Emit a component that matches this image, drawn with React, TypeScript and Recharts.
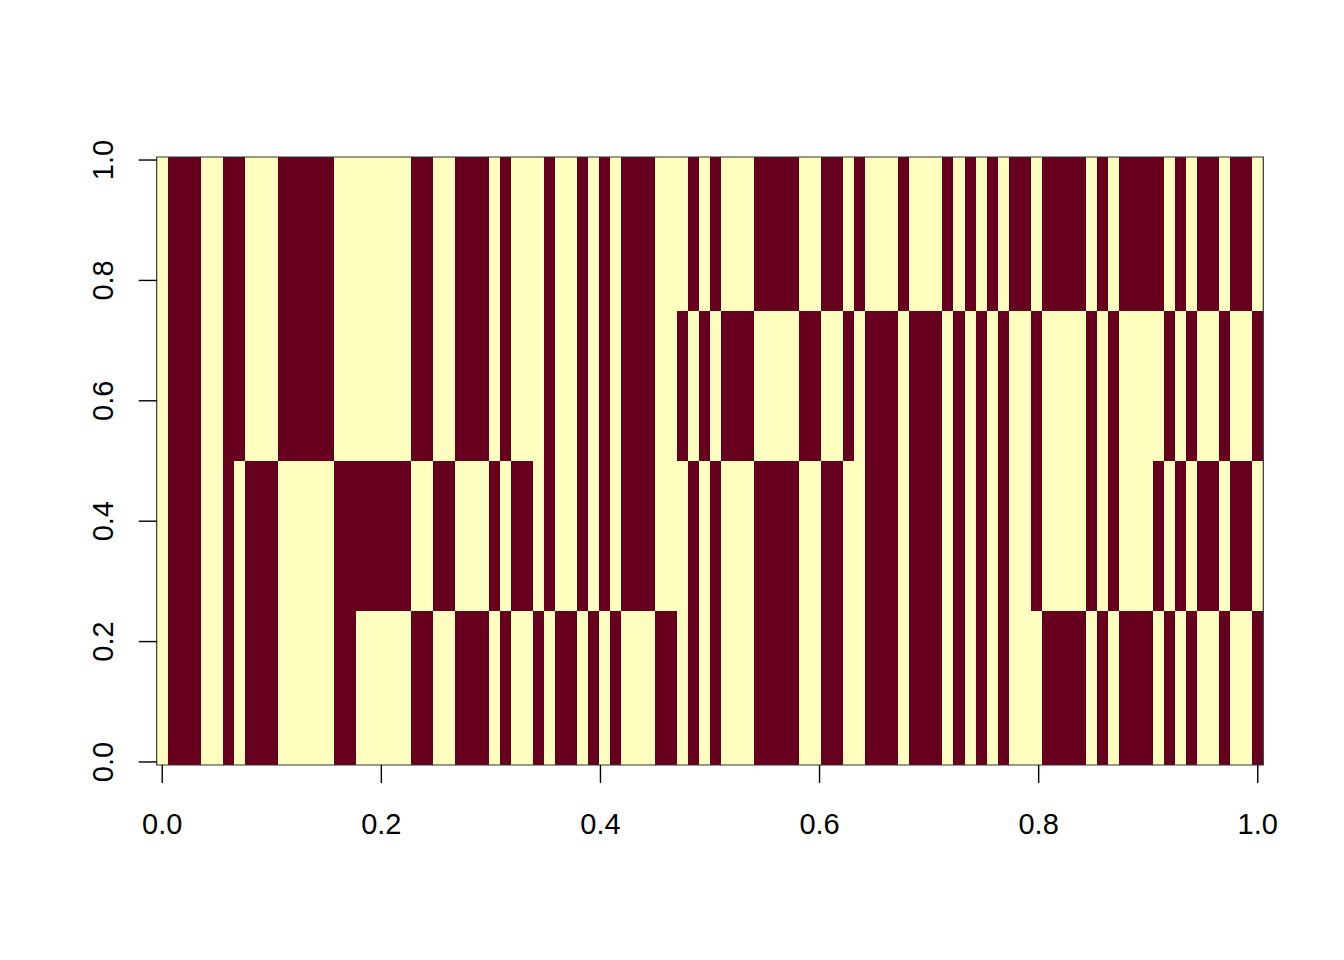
import { ScatterChart, Scatter, XAxis, YAxis, ReferenceArea } from 'recharts'

const DARK = '#67001F'
const LIGHT = '#FFFFBF'

const xTicks = [0, 0.2, 0.4, 0.6, 0.8, 1]
const yTicks = [0, 0.2, 0.4, 0.6, 0.8, 1]
// horizontal band edges, bottom to top
const bandEdges = [0, 0.25, 0.5, 0.75, 1]

// 1 = dark cell, one value per column (100 columns), band 0.00-0.25
const band1 = [
  0,
  1, 1, 1, 0, 0, 1, 0, 1, 1, 1,
  0, 0, 0, 0, 0, 1, 1, 0, 0, 0,
  0, 0, 1, 1, 0, 0, 1, 1, 1, 0,
  1, 0, 0, 1, 0, 1, 1, 0, 1, 0,
  1, 0, 0, 0, 1, 1, 0, 1, 0, 1,
  0, 0, 0, 1, 1, 1, 1, 0, 0, 1,
  1, 0, 0, 1, 1, 1, 0, 1, 1, 1,
  0, 1, 0, 1, 0, 1, 0, 0, 0, 1,
  1, 1, 1, 0, 1, 0, 1, 1, 1, 0,
  1, 0, 1, 0, 0, 1, 0, 0, 1,
]
// band 0.25-0.50
const band2 = [
  0,
  1, 1, 1, 0, 0, 1, 0, 1, 1, 1,
  0, 0, 0, 0, 0, 1, 1, 1, 1, 1,
  1, 1, 0, 0, 1, 1, 0, 0, 0, 1,
  0, 1, 1, 0, 1, 0, 0, 1, 0, 1,
  0, 1, 1, 1, 0, 0, 0, 1, 0, 1,
  0, 0, 0, 1, 1, 1, 1, 0, 0, 1,
  1, 0, 0, 1, 1, 1, 0, 1, 1, 1,
  0, 1, 0, 1, 0, 1, 0, 0, 1, 0,
  0, 0, 0, 1, 0, 1, 0, 0, 0, 1,
  0, 1, 0, 1, 1, 0, 1, 1, 0,
]
// band 0.50-0.75
const band3 = [
  0,
  1, 1, 1, 0, 0, 1, 1, 0, 0, 0,
  1, 1, 1, 1, 1, 0, 0, 0, 0, 0,
  0, 0, 1, 1, 0, 0, 1, 1, 1, 0,
  1, 0, 0, 0, 1, 0, 0, 1, 0, 1,
  0, 1, 1, 1, 0, 0, 1, 0, 1, 0,
  1, 1, 1, 0, 0, 0, 0, 1, 1, 0,
  0, 1, 0, 1, 1, 1, 0, 1, 1, 1,
  0, 1, 0, 1, 0, 1, 0, 0, 1, 0,
  0, 0, 0, 1, 0, 1, 0, 0, 0, 0,
  1, 0, 1, 0, 0, 1, 0, 0, 1,
]
// band 0.75-1.00
const band4 = [
  0,
  1, 1, 1, 0, 0, 1, 1, 0, 0, 0,
  1, 1, 1, 1, 1, 0, 0, 0, 0, 0,
  0, 0, 1, 1, 0, 0, 1, 1, 1, 0,
  1, 0, 0, 0, 1, 0, 0, 1, 0, 1,
  0, 1, 1, 1, 0, 0, 0, 1, 0, 1,
  0, 0, 0, 1, 1, 1, 1, 0, 0, 1,
  1, 0, 1, 0, 0, 0, 1, 0, 0, 0,
  1, 0, 1, 0, 1, 0, 1, 1, 0, 1,
  1, 1, 1, 0, 1, 0, 1, 1, 1, 1,
  0, 1, 0, 1, 1, 0, 1, 1, 0,
]

const bands = [band1, band2, band3, band4]
const n = band1.length
const half = 0.5 / (n - 1)
const lo = -half
const hi = 1 + half

// merge consecutive dark columns of a band into runs
function runs(vals: number[]) {
  const out: { x1: number; x2: number }[] = []
  let start = -1
  vals.forEach((v, i) => {
    if (v && start < 0) start = i
    if ((!v || i === vals.length - 1) && start >= 0) {
      const end = v ? i : i - 1
      out.push({ x1: (start - 0.5) / (n - 1), x2: (end + 0.5) / (n - 1) })
      start = -1
    }
  })
  return out
}

const centers = band1.map((_, i) => ({ x: i / (n - 1), y: 0.5 }))

const font = { fontFamily: '"Liberation Sans", Arial, sans-serif', fontSize: 29, fill: '#000' }

function XTick(props: any) {
  const { x, y, payload } = props
  return (
    <text x={x} y={y} dy="0.71em" textAnchor="middle" {...font}>
      {Number(payload.value).toFixed(1)}
    </text>
  )
}

function YTick(props: any) {
  const { x, y, payload } = props
  return (
    <text x={x} y={y} transform={`rotate(-90 ${x} ${y})`} textAnchor="middle" {...font}>
      {Number(payload.value).toFixed(1)}
    </text>
  )
}

export default function App() {
  return (
    <div style={{ position: 'absolute', left: 0, top: 0, width: 1344, height: 960, background: '#fff' }}>
      <ScatterChart width={1344} height={960} margin={{ top: 157, right: 80.7, left: 96.7, bottom: 135 }}>
        <XAxis
          type="number"
          dataKey="x"
          domain={[lo, hi]}
          ticks={xTicks}
          allowDataOverflow
          axisLine={false}
          tickLine={{ stroke: '#000', strokeWidth: 1.4 }}
          tickSize={18}
          tickMargin={30}
          height={60}
          tick={<XTick />}
        />
        <YAxis
          type="number"
          dataKey="y"
          domain={[lo, hi]}
          ticks={yTicks}
          allowDataOverflow
          axisLine={false}
          tickLine={{ stroke: '#000', strokeWidth: 1.4 }}
          tickSize={18}
          tickMargin={26}
          width={60}
          tick={<YTick />}
        />
        <ReferenceArea x1={lo} x2={hi} y1={lo} y2={hi} fill={LIGHT} fillOpacity={1} stroke="none" />
        {bands.map((vals, k) =>
          runs(vals).map((r, j) => (
            <ReferenceArea
              key={`${k}-${j}`}
              x1={r.x1}
              x2={r.x2}
              y1={k === 0 ? lo : bandEdges[k]}
              y2={k === bands.length - 1 ? hi : bandEdges[k + 1]}
              fill={DARK}
              fillOpacity={1}
              stroke="none"
              shapeRendering="crispEdges"
            />
          ))
        )}
        <ReferenceArea x1={lo} x2={hi} y1={lo} y2={hi} fill="none" stroke="#333" strokeWidth={1.2} />
        <Scatter data={centers} isAnimationActive={false} shape={() => <g />} />
      </ScatterChart>
    </div>
  )
}
